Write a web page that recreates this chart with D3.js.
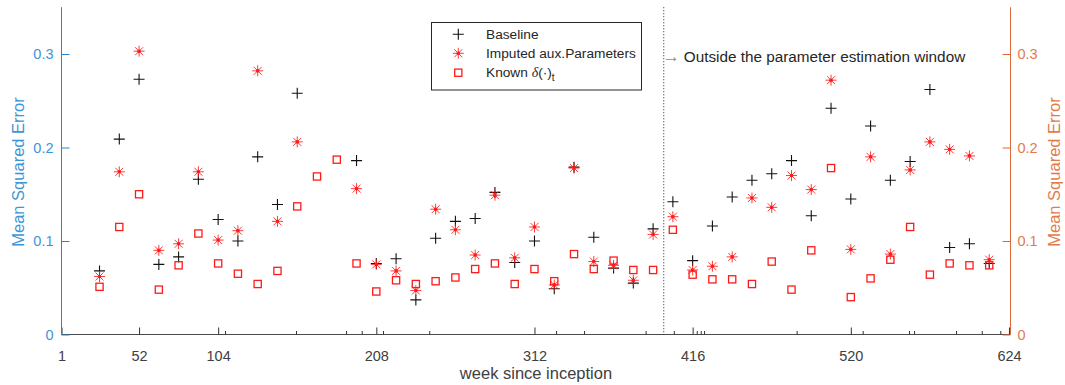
<!DOCTYPE html>
<html>
<head>
<meta charset="utf-8">
<script src="https://cdn.jsdelivr.net/npm/d3@7"></script>
<style>
  html, body { margin: 0; padding: 0; background: #fff; }
  svg { display: block; }
  text { font-family: "Liberation Sans", Arial, sans-serif; }
</style>
</head>
<body>
<script>
// Evaluation weeks (every 13 weeks) and the mean squared error of each method
const weeks = [26, 39, 52, 65, 78, 91, 104, 117, 130, 143, 156, 169, 182, 195, 208, 221,
  234, 247, 260, 273, 286, 299, 312, 325, 338, 351, 364, 377, 390, 403, 416, 429, 442,
  455, 468, 481, 494, 507, 520, 533, 546, 559, 572, 585, 598, 611];

const baseline = [0.068, 0.209, 0.273, 0.075, 0.083, 0.166, 0.123, 0.100, 0.190, 0.139, 0.258,
  null, null, 0.186, 0.076, 0.081, 0.037, 0.103, 0.121, 0.124, 0.152, 0.077, 0.100, 0.049,
  0.179, 0.104, 0.071, 0.055, 0.113, 0.142, 0.079, 0.116, 0.147, 0.165, 0.172, 0.186, 0.127,
  0.242, 0.145, 0.223, 0.165, 0.185, 0.262, 0.093, 0.097, 0.076];

const imputed = [0.062, 0.174, 0.303, 0.090, 0.097, 0.174, 0.101, 0.111, 0.282, 0.121, 0.206,
  null, null, 0.156, 0.075, 0.068, 0.047, 0.134, 0.112, 0.085, 0.149, 0.082, 0.115, 0.053,
  0.178, 0.078, 0.074, 0.058, 0.107, 0.126, 0.069, 0.073, 0.083, 0.146, 0.136, 0.170, 0.155,
  0.272, 0.091, 0.190, 0.086, 0.176, 0.206, 0.198, 0.191, 0.080];

const known = [0.051, 0.115, 0.150, 0.048, 0.074, 0.108, 0.076, 0.065, 0.054, 0.068, 0.137,
  0.169, 0.187, 0.076, 0.046, 0.058, 0.054, 0.057, 0.061, 0.070, 0.076, 0.054, 0.070, 0.057,
  0.086, 0.070, 0.079, 0.069, 0.069, 0.112, 0.064, 0.059, 0.059, 0.054, 0.078, 0.048, 0.090,
  0.178, 0.040, 0.060, 0.080, 0.115, 0.064, 0.076, 0.074, 0.074];

const xTickWeeks = [1, 52, 104, 208, 312, 416, 520, 624];
const xMinorWeeks = [108.5, 155.2, 188.1, 198.4, 212.4, 242.8, 326.2, 344.6, 385.1, 403.6,
  418.7, 421.3, 423.5, 484.4, 527.8, 558.3, 561.6, 589.2, 606.1, 618.3];
const yTicks = [0, 0.1, 0.2, 0.3];
const windowEndWeek = 397;

const legendLabels = ["Baseline", "Imputed aux.Parameters", "Known"];
const annotationText = "Outside the parameter estimation window";

const W = 1065, H = 385;
const plot = { left: 61.5, right: 1010.5, top: 7.25, bottom: 334.5 };

const leftColor = "#2a86cc", leftText = "#3e95d6";
const rightColor = "#dc6a38", rightText = "#e27b4c";
const red = "#ff1a1a";

const svg = d3.select("body").append("svg")
  .attr("width", W).attr("height", H);

const x = d3.scaleLinear().domain([1, 625]).range([plot.left, plot.right]);
const y = d3.scaleLinear().domain([0, 0.35]).range([plot.bottom, plot.top]);

// bottom axis
const xAxis = svg.append("g").attr("transform", `translate(0,${plot.bottom})`)
  .call(d3.axisBottom(x).tickValues(xTickWeeks).tickSize(-7).tickPadding(16).tickFormat(d3.format("d")));
xAxis.select(".domain").attr("stroke", "#4a4a4a").attr("d", `M${plot.left},0H${plot.right}`);
xAxis.selectAll(".tick line").attr("stroke", "#333");
xAxis.selectAll(".tick text").attr("fill", "#404040").attr("font-size", 14.5)
  .attr("font-family", "Liberation Sans, Arial, sans-serif");

const xMinor = svg.append("g").attr("transform", `translate(0,${plot.bottom})`)
  .call(d3.axisBottom(x).tickValues(xMinorWeeks).tickSize(-3.5).tickFormat(""));
xMinor.select(".domain").remove();
xMinor.selectAll(".tick line").attr("stroke", "#333");

// left axis
const yL = svg.append("g").attr("transform", `translate(${plot.left},0)`)
  .call(d3.axisLeft(y).tickValues(yTicks).tickSize(-8).tickPadding(8).tickFormat(d => d === 0 ? "0" : d3.format(".1f")(d)));
yL.select(".domain").attr("stroke", leftColor).attr("d", `M0,${plot.bottom}V${plot.top}`);
yL.selectAll(".tick line").attr("stroke", leftColor);
yL.selectAll(".tick text").attr("fill", leftText).attr("font-size", 14.5)
  .attr("font-family", "Liberation Sans, Arial, sans-serif");

// right axis
const yR = svg.append("g").attr("transform", `translate(${plot.right},0)`)
  .call(d3.axisRight(y).tickValues(yTicks).tickSize(-8).tickPadding(7).tickFormat(d => d === 0 ? "0" : d3.format(".1f")(d)));
yR.select(".domain").attr("stroke", rightColor).attr("d", `M0,${plot.bottom}V${plot.top}`);
yR.selectAll(".tick line").attr("stroke", rightColor);
yR.selectAll(".tick text").attr("fill", rightText).attr("font-size", 14.5)
  .attr("font-family", "Liberation Sans, Arial, sans-serif");

// axis titles
svg.append("text").attr("transform", `translate(24,172) rotate(-90)`)
  .attr("text-anchor", "middle").attr("fill", leftText).attr("font-size", 16.5)
  .text("Mean Squared Error");
svg.append("text").attr("transform", `translate(1060,172) rotate(-90)`)
  .attr("text-anchor", "middle").attr("fill", rightText).attr("font-size", 16.5)
  .text("Mean Squared Error");
svg.append("text").attr("x", 536).attr("y", 379)
  .attr("text-anchor", "middle").attr("fill", "#404040").attr("font-size", 16.5)
  .text("week since inception");

// end of the estimation window
svg.append("line")
  .attr("x1", x(windowEndWeek)).attr("x2", x(windowEndWeek))
  .attr("y1", plot.top).attr("y2", plot.bottom)
  .attr("stroke", "#222").attr("stroke-width", 1).attr("stroke-dasharray", "1,2");
svg.append("text").attr("x", x(windowEndWeek) - 1.5).attr("y", 61.5)
  .attr("fill", "#8c8c8c").attr("font-size", 17.5)
  .attr("font-family", "Liberation Sans, sans-serif").text("\u2192");
svg.append("text").attr("x", x(windowEndWeek) + 20).attr("y", 61.5)
  .attr("fill", "#262626").attr("font-size", 15.3).text(annotationText);

// marker shapes
function plus(g, cx, cy) {
  g.append("path").attr("d", `M${cx - 5.5},${cy}H${cx + 5.5}M${cx},${cy - 5.5}V${cy + 5.5}`)
    .attr("stroke", "#111").attr("stroke-width", 1.1).attr("fill", "none");
}
function star(g, cx, cy) {
  const r = 5.5, d = 4;
  g.append("path")
    .attr("d", `M${cx - r},${cy}H${cx + r}M${cx},${cy - r}V${cy + r}` +
      `M${cx - d},${cy - d}L${cx + d},${cy + d}M${cx - d},${cy + d}L${cx + d},${cy - d}`)
    .attr("stroke", red).attr("stroke-width", 1).attr("fill", "none").attr("opacity", 0.85);
  g.append("circle").attr("cx", cx).attr("cy", cy).attr("r", 1.8).attr("fill", red);
}
function square(g, cx, cy) {
  g.append("rect").attr("x", cx - 3.6).attr("y", cy - 3.6).attr("width", 7.2).attr("height", 7.2)
    .attr("fill", "none").attr("stroke", red).attr("stroke-width", 1.3);
}

const marks = svg.append("g");
const gB = marks.append("g"), gI = marks.append("g"), gK = marks.append("g");
weeks.forEach((w, i) => {
  if (baseline[i] != null) plus(gB, x(w), y(baseline[i]));
});
weeks.forEach((w, i) => {
  if (imputed[i] != null) star(gI, x(w), y(imputed[i]));
});
weeks.forEach((w, i) => {
  if (known[i] != null) square(gK, x(w), y(known[i]));
});

// legend
const lg = svg.append("g");
lg.append("rect").attr("x", 431.5).attr("y", 22.5).attr("width", 210).attr("height", 67.5)
  .attr("fill", "#fff").attr("stroke", "#262626").attr("stroke-width", 1);
const legendY = [34.3, 53.3, 72.7];
plus(lg, 458.3, legendY[0]);
star(lg, 458.3, legendY[1]);
square(lg, 458.3, legendY[2]);
lg.append("text").attr("x", 486).attr("y", legendY[0] + 5).attr("fill", "#262626")
  .attr("font-size", 13.7).text(legendLabels[0]);
lg.append("text").attr("x", 486).attr("y", legendY[1] + 5).attr("fill", "#262626")
  .attr("font-size", 13.7).text(legendLabels[1]);
const kt = lg.append("text").attr("x", 486).attr("y", legendY[2] + 4.5).attr("fill", "#262626")
  .attr("font-size", 13.7);
kt.append("tspan").text(legendLabels[2] + " ");
kt.append("tspan").attr("font-family", "Liberation Serif, serif").attr("font-style", "italic")
  .attr("font-size", 14).text("\u03B4");
kt.append("tspan").text("(\u00B7)");
kt.append("tspan").attr("font-size", 10).attr("dy", 4).text("t");
</script>
</body>
</html>
